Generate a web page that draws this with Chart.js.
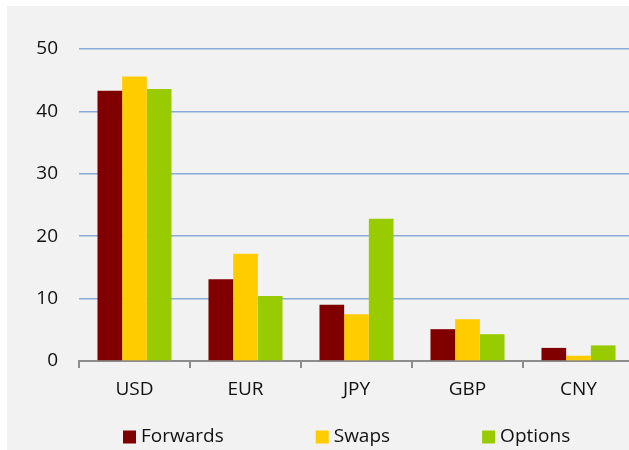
<!DOCTYPE html>
<html>
<head>
<meta charset="utf-8">
<script src="https://cdn.jsdelivr.net/npm/chart.js@4/dist/chart.umd.min.js"></script>
<style>
  html, body { margin: 0; padding: 0; background: #fff; overflow: hidden; }
  #wrap { position: absolute; left: 7px; top: 6px; width: 640px; height: 444px; background: #f2f2f2; }
</style>
</head>
<body>
<div id="wrap"><canvas id="fxChart" width="640" height="444"></canvas></div>
<script>
// Currency turnover by instrument
const currencies = ['USD', 'EUR', 'JPY', 'GBP', 'CNY'];
const forwards = [43.3, 13.1, 9.0, 5.1, 2.1];
const swaps = [45.6, 17.2, 7.5, 6.7, 0.85];
const options = [43.6, 10.4, 22.8, 4.3, 2.5];
const yTicks = [0, 10, 20, 30, 40, 50];

const fontFamily = '"Open Sans", Carlito, Calibri, sans-serif';
const textColor = '#111';

// Legend drawn by hand so the items can sit far apart on one row
const bottomLegend = {
  id: 'bottomLegend',
  afterDraw(chart) {
    const ctx = chart.ctx;
    ctx.save();
    ctx.font = '19px ' + fontFamily;
    ctx.textBaseline = 'middle';
    ctx.textAlign = 'left';
    let x = chart.chartArea.left + 44;
    const y = chart.height - 13;
    chart.data.datasets.forEach(ds => {
      ctx.fillStyle = ds.backgroundColor;
      ctx.fillRect(x, y - 6.5, 13, 13);
      ctx.fillStyle = textColor;
      ctx.fillText(ds.label, x + 18, y);
      x += 18 + ctx.measureText(ds.label).width + 92;
    });
    ctx.restore();
  }
};

const ctx = document.getElementById('fxChart').getContext('2d');
new Chart(ctx, {
  type: 'bar',
  data: {
    labels: currencies,
    datasets: [
      { label: 'Forwards', data: forwards, backgroundColor: '#800000' },
      { label: 'Swaps', data: swaps, backgroundColor: '#FFCC00' },
      { label: 'Options', data: options, backgroundColor: '#99CC00' }
    ]
  },
  options: {
    responsive: false,
    animation: false,
    layout: { padding: { top: 43, right: 13, bottom: 40, left: 0 } },
    datasets: { bar: { categoryPercentage: 0.667, barPercentage: 1.0 } },
    plugins: {
      legend: { display: false },
      tooltip: { enabled: false }
    },
    scales: {
      x: {
        afterFit(scale) { scale.height = 49; },
        grid: {
          drawOnChartArea: false,
          drawTicks: true,
          tickLength: 7,
          color: '#8c8c8c',
          lineWidth: 2
        },
        border: { display: true, color: '#8c8c8c', width: 2 },
        ticks: { color: textColor, padding: 10, font: { family: fontFamily, size: 19 } }
      },
      y: {
        min: yTicks[0],
        max: yTicks[yTicks.length - 1],
        afterFit(scale) { scale.width = 72; },
        afterBuildTicks(scale) { scale.ticks = yTicks.map(v => ({ value: v })); },
        grid: {
          drawTicks: false,
          color: c => (c.tick && c.tick.value === 0 ? 'rgba(0,0,0,0)' : '#8aaad8'),
          lineWidth: 1.5
        },
        border: { display: false },
        ticks: { color: textColor, padding: 21, font: { family: fontFamily, size: 19 } }
      }
    }
  },
  plugins: [bottomLegend]
});
</script>
</body>
</html>
